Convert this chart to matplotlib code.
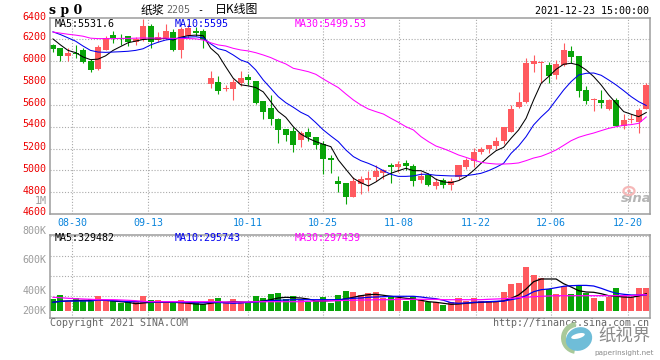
import numpy as np
import matplotlib
matplotlib.use('Agg')
import matplotlib.pyplot as plt
from matplotlib.patches import Ellipse, Wedge

# daily candles
opens = [6148,6121,6052,6079,6103,6003,5930,6103,6239,6218,6230,6180,6194,6321,6194,6209,6267,6103,6230,6276,
         6276,5788,5812,5745,5748,5800,5855,5821,5639,5576,5467,5380,5362,5279,5349,5304,5243,5111,4904,4885,
         4760,4876,4913,4937,4974,5050,5029,5069,5041,4913,4959,4858,4913,4867,4943,5029,5087,5169,5194,5224,
         5270,5352,5582,5625,5979,5982,5966,5878,5966,6095,6049,5737,5646,5646,5563,5646,5411,5462,5441,5563]
closes = [6112,6048,6073,6064,5994,5921,6130,6209,6209,6203,6179,6200,6321,6179,6224,6279,6103,6294,6303,6258,
          6194,5848,5724,5758,5812,5848,5830,5621,5539,5476,5367,5325,5233,5346,5310,5233,5105,5096,4879,4757,
          4904,4919,4931,4995,5004,5035,5059,5041,4904,4950,4867,4895,4867,4907,5050,5096,5169,5197,5233,5270,
          5398,5567,5628,5982,6003,5988,5869,5976,6104,6043,5731,5637,5652,5618,5646,5411,5462,5468,5554,5783]
highs = [6160,6125,6118,6148,6118,6018,6148,6230,6276,6250,6230,6225,6390,6345,6270,6339,6300,6315,6339,6315,
         6300,5912,5867,5785,5836,5915,5885,5821,5639,5694,5482,5380,5400,5362,5389,5304,5273,5142,4950,4885,
         4943,4950,4998,5050,5010,5065,5087,5096,5059,4989,4974,4928,4928,4928,5050,5111,5203,5218,5233,5304,
         5401,5597,5716,6027,6058,6006,5994,6009,6168,6140,6049,5774,5664,5737,5652,5667,5517,5517,5575,5800]
lows = [6088,6000,6003,6033,5988,5903,5921,6103,6164,6148,6139,6150,6188,6124,6179,6200,6094,6033,6218,6230,
        6124,5752,5703,5724,5648,5776,5785,5612,5467,5412,5248,5270,5169,5215,5270,5197,4968,4981,4803,4693,
        4760,4785,4812,4904,4919,4885,4986,5004,4858,4885,4858,4830,4843,4821,4913,5011,5029,5151,5157,5197,
        5240,5352,5570,5622,5905,5800,5805,5841,5957,5982,5676,5609,5548,5573,5554,5410,5380,5438,5346,5563]

ma5 = [6205,6150,6100,6080,6040,6015,6020,6050,6100,6135,6170,6185,6200,6205,6205,6210,6195,6220,6235,6240,
       6235,6120,6060,5950,5845,5785,5775,5760,5720,5630,5540,5487,5401,5334,5294,5264,5240,5218,5096,5011,
       4928,4888,4858,4895,4943,4974,4998,5020,4998,4998,4968,4919,4895,4888,4907,4943,5000,5065,5127,5181,
       5212,5295,5371,5478,5646,5798,5860,5927,5973,5982,5966,5921,5860,5783,5692,5615,5539,5515,5493,5531]
ma10 = [6270,6245,6215,6185,6140,6100,6085,6082,6085,6088,6092,6100,6115,6150,6175,6195,6205,6215,6222,6225,
        6215,6160,6115,6098,6058,6012,5988,5921,5829,5753,5676,5621,5579,5533,5500,5438,5371,5316,5264,5188,
        5127,5090,5065,5035,4998,4965,4946,4946,4950,4965,4965,4956,4953,4950,4950,4953,4962,4974,4998,5029,
        5065,5157,5224,5310,5417,5490,5554,5646,5737,5814,5875,5890,5893,5872,5829,5783,5731,5676,5630,5595]
ma30 = [6268,6258,6248,6240,6230,6212,6208,6208,6208,6210,6210,6212,6214,6213,6212,6212,6210,6210,6208,6206,
        6195,6170,6150,6140,6119,6104,6095,6079,6058,6034,6003,5976,5936,5921,5905,5881,5838,5798,5759,5701,
        5646,5600,5563,5539,5517,5478,5441,5401,5371,5310,5264,5224,5200,5172,5142,5120,5096,5075,5065,5059,
        5059,5062,5069,5090,5114,5130,5157,5188,5230,5273,5304,5325,5343,5365,5386,5401,5414,5420,5432,5490]

# volume in thousands
volume = [320,360,293,327,300,320,353,300,300,283,293,293,353,310,310,293,287,310,293,277,
          267,320,330,287,320,293,287,350,330,370,380,320,350,310,293,300,340,280,360,400,
          390,360,380,390,333,350,330,300,350,310,293,287,260,287,330,300,330,300,300,287,
          390,470,480,640,560,533,420,370,450,370,450,380,330,300,340,430,350,340,430,430]
vol_ma5 = [287,297,300,303,307,307,310,307,300,293,287,273,280,287,287,287,287,283,277,270,
           267,277,287,287,293,290,287,293,300,313,330,337,333,330,320,300,300,303,307,323,
           337,353,363,367,357,347,337,327,320,307,293,287,277,267,270,277,283,287,290,293,
           300,327,360,420,493,520,520,520,473,440,403,390,387,373,353,347,340,337,350,373]
vol_ma10 = [287,297,300,300,300,300,310,307,303,300,293,293,293,290,290,290,290,287,287,283,
            283,287,287,280,277,280,287,290,297,303,307,310,313,313,313,313,313,313,313,320,
            327,330,337,340,343,347,347,347,347,340,330,323,307,283,277,280,287,290,293,297,
            300,313,327,353,393,413,420,433,447,453,456,456,450,427,400,377,367,360,360,360]
vol_ma30 = [337,333,327,323,320,317,313,313,313,310,307,303,297,293,293,293,293,293,293,293,
            293,293,293,290,290,290,290,293,293,293,293,293,293,293,297,300,300,303,303,307,
            307,310,310,313,313,313,317,317,317,317,317,317,313,313,313,313,313,313,317,320,
            323,327,333,337,343,347,350,353,353,353,353,353,353,353,353,353,353,353,360,363]

date_pos = [2.57,12.69,25.93,35.99,46.11,56.28,66.35,76.52]
date_labels = ['08-30','09-13','10-11','10-25','11-08','11-22','12-06','12-20']
price_ticks = [4800,5000,5200,5400,5600,5800,6000,6200]
price_labels = ['6400','6200','6000','5800','5600','5400','5200','5000','4800','4600']
price_label_y = [16.5,37.3,59.5,81.5,103.5,124.3,146.5,168.5,190.5,212.3]
vol_grid = [353,553,753,953]
vol_labels = ['800K','600K','400K','200K']
vol_label_y = [230.7,260,290.7,310.7]

RED = '#ff5a5f'
GREEN = '#08a408'
GRAY = '#9c9c9c'
GRID = '#aaaaaa'
MONO = 'DejaVu Sans Mono'
W, H = 660, 360

fig = plt.figure(figsize=(6.6, 3.6), dpi=100)

def px_axes(left, top, right, bottom):
    return fig.add_axes([left/W, 1-bottom/H, (right-left)/W, (bottom-top)/H])

def put(x, y, s, color='black', ha='left', size=7.2, family=MONO, **kw):
    fig.text(x/W, 1-y/H, s, color=color, ha=ha, va='center', fontsize=size, family=family, **kw)

ax = px_axes(50.5, 18.3, 650, 213.7)
ax2 = px_axes(50.5, 234.7, 650, 318.3)

x = np.arange(len(opens))
colors = [RED if c >= o else GREEN for o, c in zip(opens, closes)]
o = np.array(opens)
c = np.array(closes)

ax.vlines(x, lows, highs, colors=colors, lw=0.8, zorder=2)
ax.bar(x, np.maximum(np.abs(c-o), 9), bottom=np.minimum(o, c), width=0.8, color=colors, zorder=2)
ax.plot(x, ma5, color='black', lw=0.75, zorder=3)
ax.plot(x, ma10, color='#0000ee', lw=0.75, zorder=3)
ax.plot(x, ma30, color='#ff00ff', lw=0.75, zorder=3)
ax.set_xlim(-0.33, 79.5)
ax.set_ylim(4604, 6394)
ax.set_yticks(price_ticks)
ax.set_yticklabels([])
ax.set_xticks(date_pos)
ax.set_xticklabels(date_labels, color='#0a84dc', family=MONO, fontsize=7.2)
ax.tick_params(length=0, pad=3)

vol = np.array(volume)
ax2.bar(x, vol-200, bottom=200, width=0.8, color=colors, zorder=2)
ax2.plot(x, vol_ma5, color='black', lw=0.9, zorder=3)
ax2.plot(x, vol_ma10, color='#0000ee', lw=0.9, zorder=3)
ax2.plot(x, vol_ma30, color='#ff00ff', lw=0.9, zorder=3)
ax2.set_xlim(-0.33, 79.5)
ax2.set_ylim(127, 963)
ax2.set_yticks(vol_grid)
ax2.set_yticklabels([])
ax2.set_xticks(date_pos)
ax2.set_xticklabels([])
ax2.tick_params(length=0)

for a in (ax, ax2):
    a.grid(True, color=GRID, linestyle=(0, (1, 1.6)), lw=0.8, zorder=0)
    a.set_axisbelow(True)
    for s in a.spines.values():
        s.set_color(GRAY)
        s.set_linewidth(1.1)

for s, y in zip(price_labels, price_label_y):
    put(46.5, y, s, color='#ee0000', ha='right')
put(46.5, 200.5, '1M', color=GRAY, ha='right')
for s, y in zip(vol_labels, vol_label_y):
    put(46.5, y, s, color=GRAY, ha='right')

# headers
put(49, 10.5, 's p 0', size=9, family='DejaVu Serif', weight='bold')
put(141, 10, '纸浆', size=8.6, family='Noto Sans CJK SC')
put(166, 10, '2205', color='#666666')
put(197, 10, '-')
put(215, 10, '日K线图', size=8.6, family='Noto Sans CJK SC')
put(649, 11.3, '2021-12-23 15:00:00', ha='right')

put(54.3, 23.7, 'MA5:5531.6')
put(174.3, 23.7, 'MA10:5595', color='#0000ee')
put(295, 23.7, 'MA30:5499.53', color='#ff00ff')
put(54.3, 238.3, 'MA5:329482')
put(174.3, 238.3, 'MA10:295743', color='#0000ee')
put(295, 238.3, 'MA30:297439', color='#ff00ff')

put(50, 323.5, 'Copyright 2021 SINA.COM', color='#666666')
put(649, 323.5, 'http://finance.sina.com.cn', color='#666666', ha='right')

# watermarks
put(636.5, 199, 'sina', color='#b5b5b5', ha='center', size=9.5, family='DejaVu Sans', style='italic', weight='bold')

bg = fig.add_axes([0, 0, 1, 1], facecolor='none', zorder=5)
bg.set_xlim(0, W)
bg.set_ylim(H, 0)
bg.axis('off')
bg.add_patch(Ellipse((629, 191), 11, 8, fill=False, ec='#f6b8b8', lw=1.6))
bg.add_patch(Ellipse((629, 191), 3.5, 3.5, color='#f3a6a6', lw=0))
bg.add_patch(Wedge((577, 338), 16, 100, 265, width=5, color='#a9c99a', lw=0))
bg.add_patch(Ellipse((579, 339), 27, 23, angle=-25, color='#6fbdd8', lw=0))
bg.add_patch(Ellipse((578, 336), 14, 5, angle=-15, color='white', lw=0))
put(624, 337, '纸视界', color='#8a8a8a', ha='center', size=12.5, family='Noto Sans CJK SC')
put(624, 352.7, 'paperinsight.net', color='#8a8a8a', ha='center', size=5.2, family='DejaVu Sans')

fig.savefig('out.png', dpi=100, facecolor='white')
